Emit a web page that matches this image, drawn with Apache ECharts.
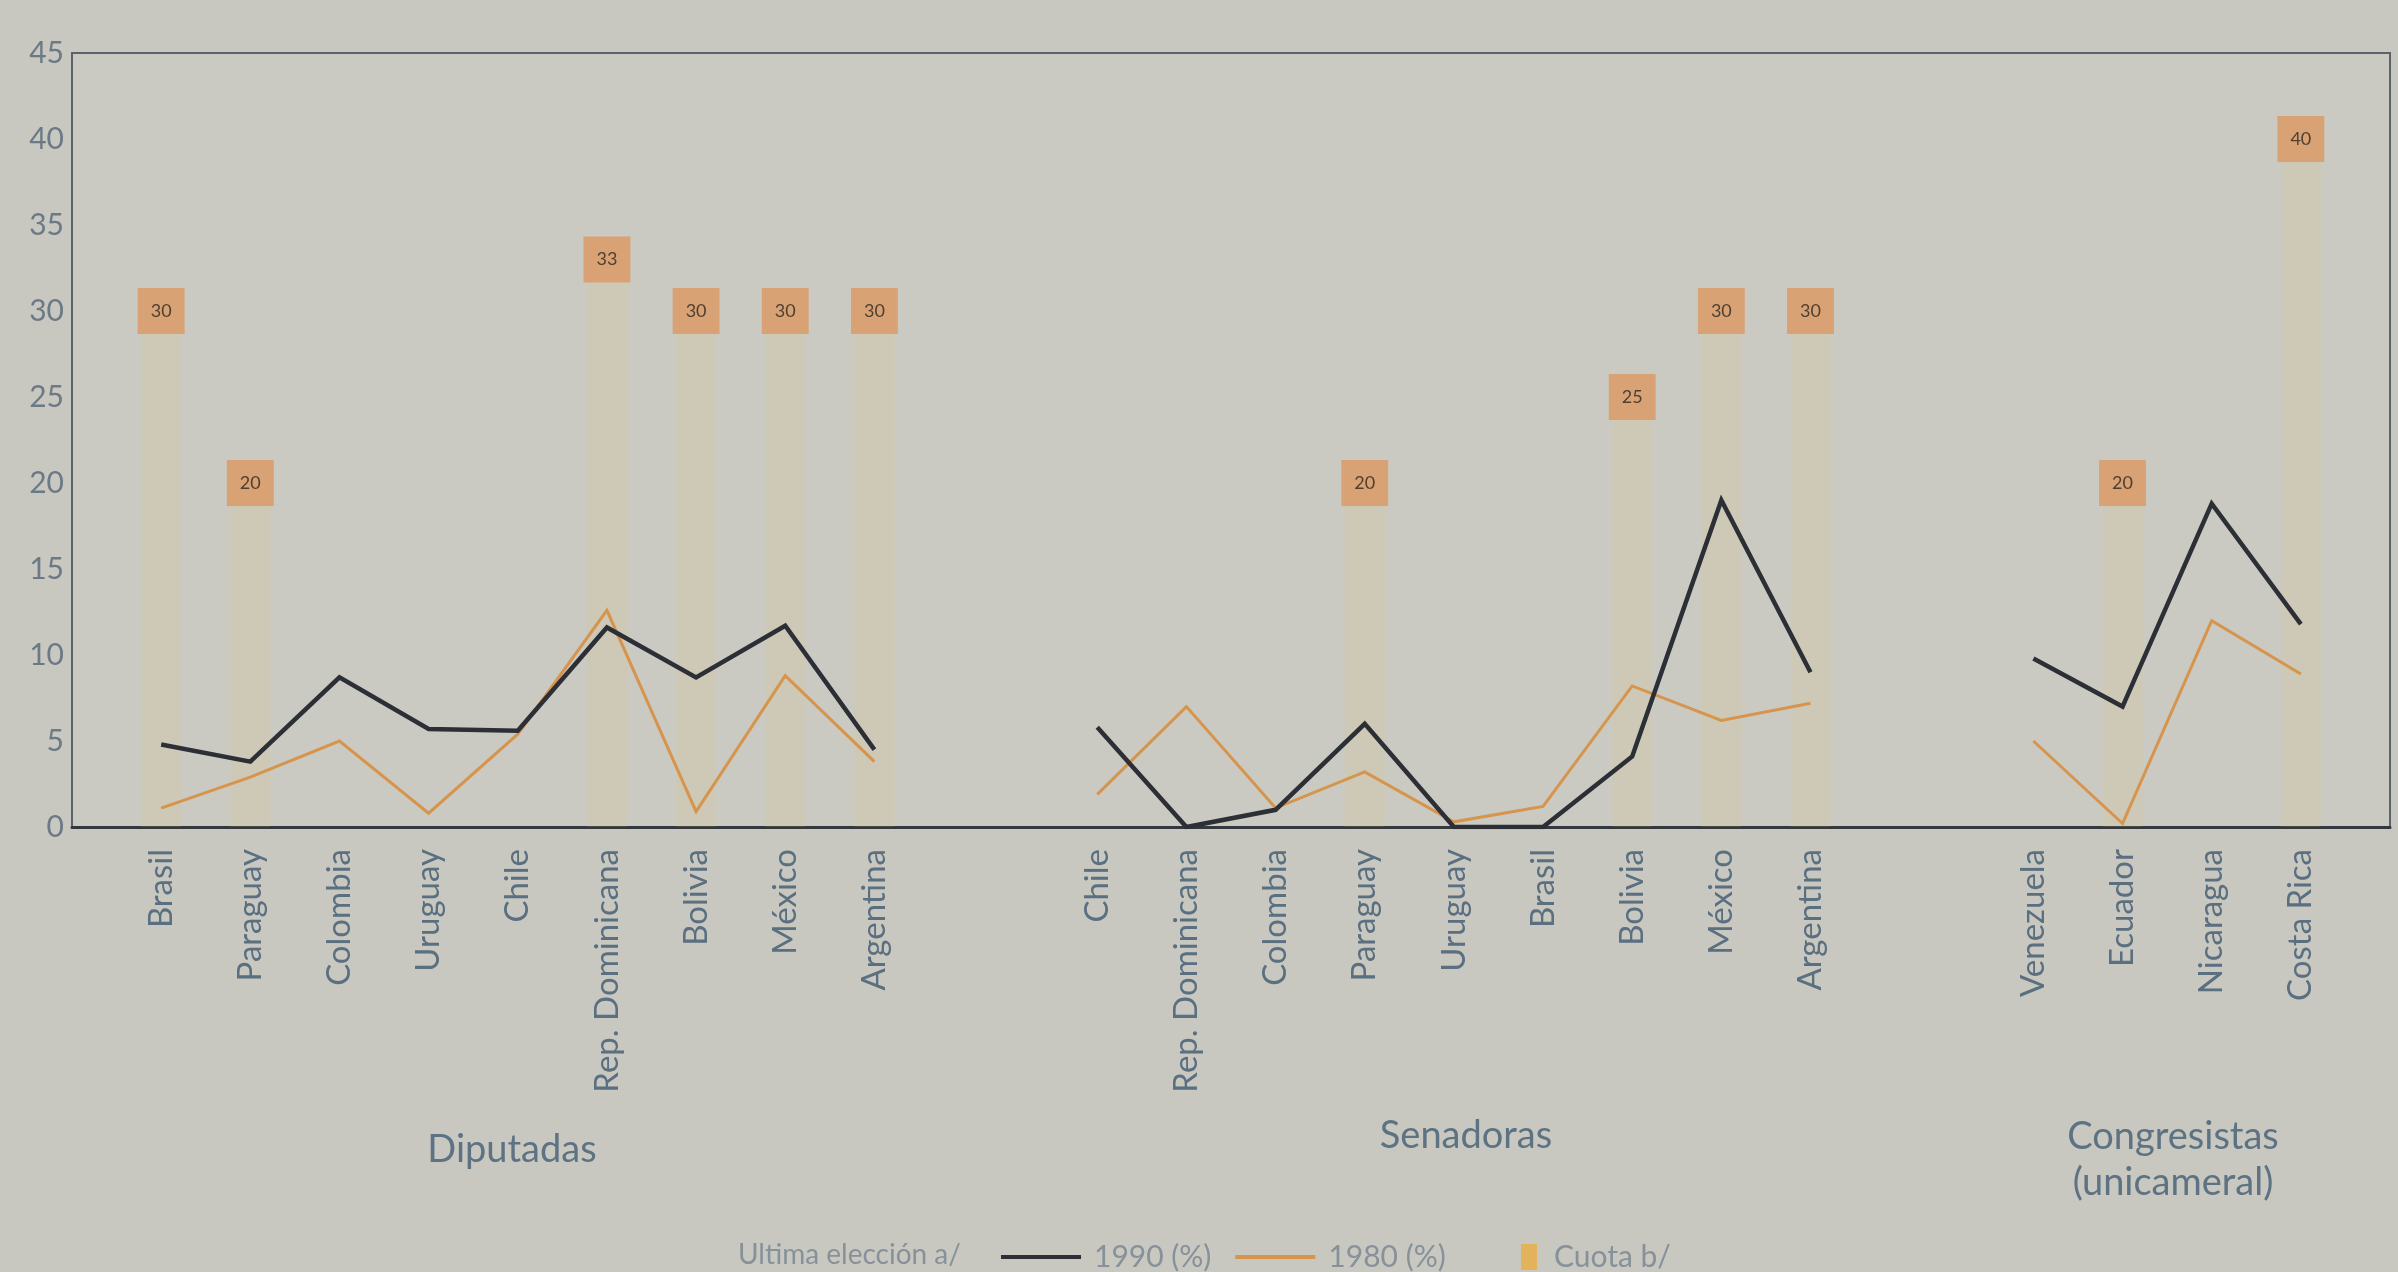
<!DOCTYPE html>
<html>
<head>
<meta charset="utf-8">
<script src="https://cdn.jsdelivr.net/npm/echarts@6/dist/echarts.min.js"></script>
<style>
html,body{margin:0;padding:0;background:#c8c8c0;}
#chart{width:2398px;height:1272px;}
</style>
</head>
<body>
<div id="chart"></div>
<script>
// ---- Data ----
const catDip = ['Brasil','Paraguay','Colombia','Uruguay','Chile','Rep. Dominicana','Bolivia','México','Argentina'];
const catSen = ['Chile','Rep. Dominicana','Colombia','Paraguay','Uruguay','Brasil','Bolivia','México','Argentina'];
const catCong = ['Venezuela','Ecuador','Nicaragua','Costa Rica'];

const v1990Dip = [4.8, 3.8, 8.7, 5.7, 5.6, 11.6, 8.7, 11.7, 4.5];
const v1980Dip = [1.1, 2.9, 5.0, 0.8, 5.4, 12.6, 0.9, 8.8, 3.8];
const v1990Sen = [5.8, 0, 1.0, 6.0, 0, 0, 4.1, 19.0, 9.0];
const v1980Sen = [1.9, 7.0, 1.1, 3.2, 0.3, 1.2, 8.2, 6.2, 7.2];
const v1990Cong = [9.8, 7.0, 18.8, 11.8];
const v1980Cong = [5.0, 0.2, 12.0, 8.9];

const quotaDip = [30, 20, null, null, null, 33, 30, 30, 30];
const quotaSen = [null, null, null, 20, null, null, 25, 30, 30];
const quotaCong = [null, 20, null, 40];

const groupNames = ['Diputadas', 'Senadoras', 'Congresistas\n(unicameral)'];
const yTicks = [0, 5, 10, 15, 20, 25, 30, 35, 40, 45];

// ---- Layout of groups on the x scale (slot offsets) ----
const offDip = 0, offSen = 10.5, offCong = 21;
const xDip = catDip.map((_, i) => offDip + i);
const xSen = catSen.map((_, i) => offSen + i);
const xCong = catCong.map((_, i) => offCong + i);

const labelMap = {};
[[xDip, catDip], [xSen, catSen], [xCong, catCong]].forEach(([xs, cs]) => {
  xs.forEach((x, i) => { labelMap[x.toFixed(2)] = cs[i]; });
});

const FONT = 'Lato';
const C1990 = '#2c3036';
const C1980 = '#d6944c';
const LINE_ICON = 'path://M0,0H20V1H0Z';

function lineSeries(name, xs, ys, color, width) {
  return {
    type: 'line', name: name,
    data: xs.map((x, i) => [x, ys[i]]),
    symbol: 'none',
    lineStyle: { color: color, width: width, join: 'miter' },
    itemStyle: { color: color },
    z: 4, animation: false
  };
}

const quotaData = [];
[[xDip, quotaDip], [xSen, quotaSen], [xCong, quotaCong]].forEach(([xs, qs]) => {
  xs.forEach((x, i) => { if (qs[i] != null) quotaData.push([x, qs[i]]); });
});

const chart = echarts.init(document.getElementById('chart'), null, { renderer: 'canvas' });

const option = {
  backgroundColor: '#c8c8c0',
  animation: false,
  grid: {
    left: 72, right: 8, top: 53, bottom: 445,
    show: true, backgroundColor: '#cacac2',
    borderColor: '#5c6269', borderWidth: 2
  },
  xAxis: {
    type: 'value', min: -1, max: 25, interval: 0.5,
    splitLine: { show: false },
    axisTick: { show: false },
    axisLine: { show: true, onZero: false, lineStyle: { color: '#33383e', width: 3 } },
    axisLabel: {
      rotate: 90, margin: 22,
      color: '#5a6f80', fontFamily: FONT, fontSize: 33,
      formatter: function (v) { return labelMap[Number(v).toFixed(2)] || ''; }
    }
  },
  yAxis: {
    type: 'value', min: 0, max: 45, interval: 5,
    splitLine: { show: false },
    axisTick: { show: false },
    axisLine: { show: false },
    axisLabel: {
      margin: 8, color: '#6b7a86', fontFamily: FONT, fontSize: 30,
      padding: [0, 0, 28, 0],
      formatter: function (v) { return yTicks.indexOf(v) >= 0 ? String(v) : ''; }
    }
  },
  legend: [
    {
      left: 1001, top: 1242, padding: 0,
      itemWidth: 80, itemHeight: 30, itemGap: 24,
      textStyle: { color: '#86919a', fontFamily: FONT, fontSize: 30, padding: [0, 0, 0, 8] },
      data: [
        { name: '1990 (%)', icon: LINE_ICON },
        { name: '1980 (%)', icon: LINE_ICON }
      ]
    },
    {
      left: 1521, top: 1242, padding: 0,
      itemWidth: 16, itemHeight: 26, itemGap: 10,
      textStyle: { color: '#86919a', fontFamily: FONT, fontSize: 30, padding: [0, 0, 0, 12] },
      data: [
        { name: 'Cuota b/', icon: 'rect', itemStyle: { color: '#e2b35a' } }
      ]
    }
  ],
  graphic: [
    { type: 'text', left: 738, top: 1241, style: { text: 'Ultima elección a/', fill: '#86919a', font: '28px Lato' } },
    { type: 'text', x: 512, y: 1150, style: { text: groupNames[0], fill: '#5d7282', font: '38px Lato', align: 'center', verticalAlign: 'middle' } },
    { type: 'text', x: 1466, y: 1136, style: { text: groupNames[1], fill: '#5d7282', font: '38px Lato', align: 'center', verticalAlign: 'middle' } },
    { type: 'text', x: 2173, y: 1160, style: { text: groupNames[2], fill: '#5d7282', font: '38px Lato', align: 'center', verticalAlign: 'middle', lineHeight: 46 } }
  ],
  series: [
    {
      type: 'bar', name: 'Cuota b/',
      data: quotaData,
      barWidth: 40,
      itemStyle: { color: 'rgba(232, 200, 110, 0.13)' },
      z: 2,
      label: {
        show: true, position: 'top', distance: 0, offset: [0, 23],
        formatter: function (p) { return p.value[1]; },
        backgroundColor: '#d9a274', padding: [12, 13],
        fontFamily: FONT, fontSize: 18, lineHeight: 22, color: '#4e4032'
      }
    },
    lineSeries('1980 (%)', xDip, v1980Dip, C1980, 3),
    lineSeries('1980 (%)', xSen, v1980Sen, C1980, 3),
    lineSeries('1980 (%)', xCong, v1980Cong, C1980, 3),
    lineSeries('1990 (%)', xDip, v1990Dip, C1990, 4.5),
    lineSeries('1990 (%)', xSen, v1990Sen, C1990, 4.5),
    lineSeries('1990 (%)', xCong, v1990Cong, C1990, 4.5)
  ]
};
chart.setOption(option);
</script>
</body>
</html>
